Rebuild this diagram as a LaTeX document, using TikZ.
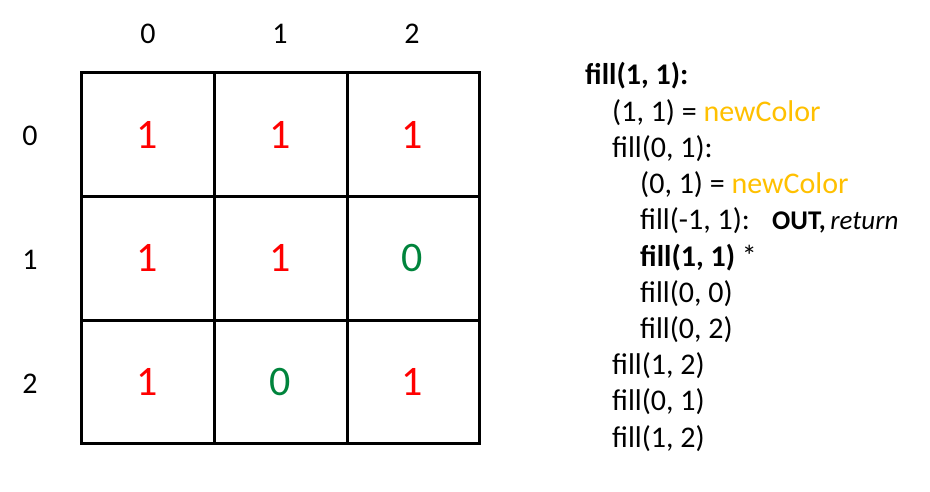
\documentclass[tikz,border=0pt]{standalone}
\usepackage{fontspec}
\setmainfont{Carlito}
\definecolor{gold}{RGB}{255,192,0}
\definecolor{dgreen}{RGB}{0,132,60}
\definecolor{bred}{RGB}{255,0,0}
\begin{document}
\begin{tikzpicture}[x=1pt,y=-1pt,
  grid/.style={line width=3pt},
  cellnum/.style={font=\fontsize{42}{50}\selectfont},
  axis/.style={font=\fontsize{30}{36}\selectfont},
  code/.style={anchor=base west,inner sep=0pt,font=\fontsize{30}{36}\selectfont}]
\useasboundingbox (0,0) rectangle (930,492);
% grid
\draw[grid] (81,73) rectangle (479,443);
\draw[grid] (214,73) -- (214,443);
\draw[grid] (347,73) -- (347,443);
\draw[grid] (81,197) -- (479,197);
\draw[grid] (81,320) -- (479,320);
% axis labels
\node[axis] (c0) at (148,34) {0};
\node[axis] (c1) at (280,34) {1};
\node[axis] (c2) at (412,34) {2};
\node[axis] (r0) at (30,136) {0};
\node[axis] (r1) at (30,260) {1};
\node[axis] (r2) at (30,384) {2};
% cells
\node[cellnum,text=bred] (n00) at (147.5,135) {1};
\node[cellnum,text=bred] (n01) at (280.5,135) {1};
\node[cellnum,text=bred] (n02) at (412,135) {1};
\node[cellnum,text=bred] (n10) at (147.5,258) {1};
\node[cellnum,text=bred] (n11) at (280.5,258) {1};
\node[cellnum,text=dgreen] (n12) at (412,258) {0};
\node[cellnum,text=bred] (n20) at (147.5,382) {1};
\node[cellnum,text=dgreen] (n21) at (280.5,382) {0};
\node[cellnum,text=bred] (n22) at (412,382) {1};
% code
\node[code] (l1) at (585,85) {\textbf{fill(1, 1):}};
\node[code] (l2) at (612,121.2) {(1, 1) = \textcolor{gold}{newColor}};
\node[code] (l3) at (612,157.4) {fill(0, 1):};
\node[code] (l4) at (640,193.6) {(0, 1) = \textcolor{gold}{newColor}};
\node[code] (l5) at (640,229.8) {fill(-1, 1):};
\node[code,font=\fontsize{27}{32}\selectfont] (l5b) at (772,229.8) {\textbf{OUT,}\,\textit{return}};
\node[code] (l6) at (640,266) {\textbf{fill(1, 1)} *};
\node[code] (l7) at (640,302.2) {fill(0, 0)};
\node[code] (l8) at (640,338.4) {fill(0, 2)};
\node[code] (l9) at (612,374.6) {fill(1, 2)};
\node[code] (l10) at (612,410.8) {fill(0, 1)};
\node[code] (l11) at (612,447) {fill(1, 2)};
\end{tikzpicture}
\end{document}
